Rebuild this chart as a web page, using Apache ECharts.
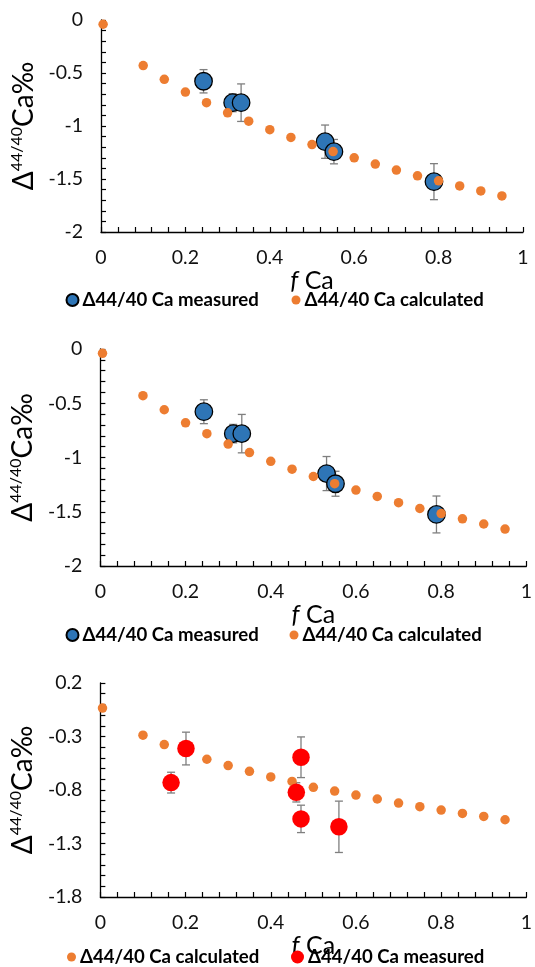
<!DOCTYPE html>
<html>
<head>
<meta charset="utf-8">
<script src="https://cdn.jsdelivr.net/npm/echarts@6/dist/echarts.min.js"></script>
<style>
html,body{margin:0;padding:0;background:#fff;}
#chart{width:535px;height:967px;}
</style>
</head>
<body>
<div id="chart"></div>
<script>
// ---- data ----
// Panels 1 and 2 (same data)
const calcX = [0.005, 0.1, 0.15, 0.2, 0.25, 0.3, 0.35, 0.4, 0.45, 0.5, 0.55, 0.6, 0.65, 0.7, 0.75, 0.8, 0.85, 0.9, 0.95];
const calcY = [-0.04, -0.43, -0.56, -0.68, -0.78, -0.876, -0.955, -1.035, -1.108, -1.175, -1.241, -1.30, -1.359, -1.416, -1.47, -1.517, -1.565, -1.613, -1.66];
const measX = [0.243, 0.312, 0.332, 0.531, 0.552, 0.789];
const measY = [-0.578, -0.78, -0.78, -1.148, -1.242, -1.525];
const measErr = [0.11, 0.085, 0.177, 0.157, 0.115, 0.17];
// Panel 3
const calc3X = [0.005, 0.1, 0.15, 0.2, 0.25, 0.3, 0.35, 0.4, 0.45, 0.5, 0.55, 0.6, 0.65, 0.7, 0.75, 0.8, 0.85, 0.9, 0.95];
const calc3Y = [-0.034, -0.2875, -0.375, -0.445, -0.5125, -0.572, -0.625, -0.678, -0.72, -0.775, -0.81, -0.847, -0.884, -0.922, -0.956, -0.9875, -1.019, -1.047, -1.078];
const meas3X = [0.166, 0.201, 0.46, 0.471, 0.471, 0.56];
const meas3Y = [-0.731, -0.4125, -0.822, -0.494, -1.07, -1.144];
const meas3Err = [0.097, 0.153, 0.09, 0.19, 0.128, 0.24];
// tick settings
const xTicks = {min: 0, max: 1, interval: 0.2};
const yTicks12 = {min: -2, max: 0, interval: 0.5};
const yTicks3 = {min: -1.8, max: 0.2, interval: 0.5};
const legendNames = {
  m1: 'Δ44/40 Ca measured', c1: 'Δ44/40 Ca calculated',
  m2: 'Δ44/40 Ca measured', c2: 'Δ44/40 Ca calculated',
  m3: 'Δ44/40 Ca measured', c3: 'Δ44/40 Ca calculated'
};

const FONT = 'Lato, "Open Sans", sans-serif';
const BLUE = '#2E75B6', ORANGE = '#ED7D31', RED = '#FF0000';
const zip = (a, b) => a.map((v, i) => [v, b[i]]);
const zip3 = (a, b, c) => a.map((v, i) => [v, b[i], c[i]]);

const grids = [
  {left: 101, top: 20, width: 422, height: 212},
  {left: 96, top: 349, width: 432, height: 217},
  {left: 98.5, top: 683, width: 428, height: 214}
];
const xNameGaps = [36, 33, 17];
const yNameGaps = [61, 56, 58.5];

function xAxis(i) {
  return {
    type: 'value', gridIndex: i, min: xTicks.min, max: xTicks.max, interval: xTicks.interval,
    name: '{i|f} Ca', nameLocation: 'middle', nameGap: xNameGaps[i],
    nameTextStyle: {fontFamily: FONT, fontSize: 25, color: '#000',
      rich: {i: {fontFamily: FONT, fontSize: 25, fontStyle: 'italic', color: '#000'}}},
    axisLine: {show: true, onZero: false, lineStyle: {color: '#000', width: 1.3}},
    axisTick: {show: true, inside: true, length: 5, lineStyle: {color: '#000', width: 1.2}},
    minorTick: {show: true, splitNumber: 5, length: 5, lineStyle: {color: '#000', width: 1.2}},
    splitLine: {show: false},
    axisLabel: {fontFamily: FONT, fontSize: 19.5, color: '#111', margin: 16,
      formatter: v => String(+v.toFixed(2))}
  };
}
function yAxis(i, t) {
  return {
    type: 'value', gridIndex: i, min: t.min, max: t.max, interval: t.interval,
    name: '{d|Δ}{s|44/40}{d|Ca‰}', nameLocation: 'middle', nameGap: yNameGaps[i], nameRotate: 90,
    nameTextStyle: {fontFamily: FONT, color: '#000',
      rich: {
        d: {fontFamily: FONT, fontSize: 28, color: '#000', lineHeight: 30},
        s: {fontFamily: FONT, fontSize: 16, color: '#000', lineHeight: 30, verticalAlign: 'top'}
      }},
    axisLine: {show: true, onZero: false, lineStyle: {color: '#000', width: 1.3}},
    axisTick: {show: true, inside: true, length: 5, lineStyle: {color: '#000', width: 1.2}},
    minorTick: {show: true, splitNumber: 5, length: 5, lineStyle: {color: '#000', width: 1.2}},
    splitLine: {show: false},
    axisLabel: {fontFamily: FONT, fontSize: 19.5, color: '#111', margin: 18,
      formatter: v => String(+v.toFixed(2))}
  };
}

function errSeries(id, i, data) {
  return {
    id: id, type: 'custom', xAxisIndex: i, yAxisIndex: i, z: 1, silent: true,
    data: data, encode: {x: 0, y: 1},
    renderItem: function (params, api) {
      const x = api.value(0), y = api.value(1), e = api.value(2);
      const t = api.coord([x, y + e]), b = api.coord([x, y - e]);
      const w = 4, st = {stroke: '#7F7F7F', lineWidth: 1.3};
      return {type: 'group', children: [
        {type: 'line', shape: {x1: t[0], y1: t[1], x2: b[0], y2: b[1]}, style: st},
        {type: 'line', shape: {x1: t[0] - w, y1: t[1], x2: t[0] + w, y2: t[1]}, style: st},
        {type: 'line', shape: {x1: b[0] - w, y1: b[1], x2: b[0] + w, y2: b[1]}, style: st}
      ]};
    }
  };
}
function scatter(name, i, data, color, size, border) {
  return {
    name: name, type: 'scatter', xAxisIndex: i, yAxisIndex: i, z: 2,
    data: data, symbol: 'circle', symbolSize: size,
    itemStyle: border ? {color: color, borderColor: '#000', borderWidth: 1.3, opacity: 1}
                      : {color: color, opacity: 1},
    emphasis: {disabled: true}
  };
}
function legend(name, left, cy, size) {
  return {
    data: [name], left: left, top: cy - 11, padding: 0, itemGap: 0,
    itemWidth: size, itemHeight: size, icon: 'circle',
    formatter: n => legendNames[n],
    textStyle: {fontFamily: FONT, fontSize: 18.6, fontWeight: 'bold', color: '#000', lineHeight: 22, padding: [0, 0, 0, -1]}
  };
}

const option = {
  animation: false,
  backgroundColor: '#fff',
  grid: grids,
  xAxis: [xAxis(0), xAxis(1), xAxis(2)],
  yAxis: [yAxis(0, yTicks12), yAxis(1, yTicks12), yAxis(2, yTicks3)],
  legend: [
    legend('m1', 65.5, 300, 12), legend('c1', 291.5, 300, 9),
    legend('m2', 65.5, 635, 12), legend('c2', 289.5, 635, 9),
    legend('c3', 67, 957, 9), legend('m3', 291, 957, 13)
  ],
  series: [
    errSeries('e1', 0, zip3(measX, measY, measErr)),
    scatter('m1', 0, zip(measX, measY), BLUE, 17.5, true),
    scatter('c1', 0, zip(calcX, calcY), ORANGE, 9.5, false),
    errSeries('e2', 1, zip3(measX, measY, measErr)),
    scatter('m2', 1, zip(measX, measY), BLUE, 17.5, true),
    scatter('c2', 1, zip(calcX, calcY), ORANGE, 9.5, false),
    errSeries('e3', 2, zip3(meas3X, meas3Y, meas3Err)),
    scatter('c3', 2, zip(calc3X, calc3Y), ORANGE, 9.5, false),
    scatter('m3', 2, zip(meas3X, meas3Y), RED, 17.5, false)
  ]
};
const chart = echarts.init(document.getElementById('chart'), null, {renderer: 'canvas'});
chart.setOption(option);
</script>
</body>
</html>
